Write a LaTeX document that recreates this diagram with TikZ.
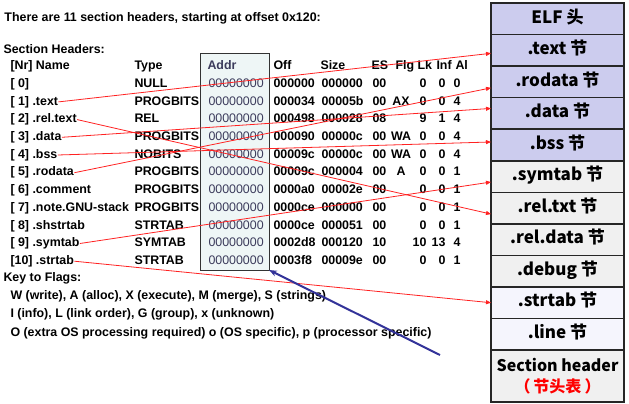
\documentclass[tikz,border=0pt]{standalone}
\usepackage{fontspec}
\setmainfont{Liberation Sans}
\newfontfamily\cjk{Noto Sans CJK SC}
\usetikzlibrary{positioning,arrows.meta}
\definecolor{boxlav}{HTML}{CCCCEE}
\definecolor{boxgray}{HTML}{F0F0F0}
\definecolor{boxpale}{HTML}{F5F5FD}
\definecolor{addrfill}{HTML}{EEF6F6}
\definecolor{addrtxt}{HTML}{3C3C5C}
\definecolor{linkred}{HTML}{FF2222}
\definecolor{pointblue}{HTML}{333399}

\begin{document}
\begin{tikzpicture}[x=1pt,y=-1pt,
every node/.style={inner sep=0.5pt,outer sep=0pt},
txt/.style={anchor=base west,font=\fontsize{12.4}{14}\selectfont\bfseries},
addr/.style={anchor=base west,text=addrtxt,font=\fontsize{12.4}{14}\selectfont},
seg/.style={draw=black!85,line width=1.5pt,minimum width=133pt,minimum height=31.55pt,
  text height=12pt,text depth=3.5pt,font=\cjk\fontsize{17}{21}\selectfont\bfseries},
link/.style={draw=linkred,line width=0.8pt,-{Triangle[length=5pt,width=4pt]}},
pointer/.style={draw=pointblue,line width=2pt,-{Stealth[length=8pt,width=6pt]}}]

\useasboundingbox (0,0) rectangle (629,404);

% Addr column
\node[draw=black!80,line width=1pt,fill=addrfill,minimum width=69pt,minimum height=216pt,
  anchor=north west] (addrbox) at (200,54) {};

\node[txt] (title) at (4,21.4) {There are 11 section headers, starting at offset 0x120:};
\node[txt] (shead) at (3,53.4) {Section Headers:};

% column titles
\node[txt] (hnr) at (10,69.4) {[Nr] Name};
\node[txt] (htype) at (134,69.4) {Type};
\node[txt,text=addrtxt] (haddr) at (207,69.4) {Addr};
\node[txt] (hoff) at (273,69.4) {Off};
\node[txt] (hsize) at (320,69.4) {Size};
\node[txt] (hes) at (371,69.4) {ES};
\node[txt] (hflg) at (395,69.4) {Flg};
\node[txt] (hlk) at (417,69.4) {Lk};
\node[txt] (hinf) at (436,69.4) {Inf};
\node[txt] (hal) at (455,69.4) {Al};

% table rows
\foreach \i/\nm/\ty/\off/\sz/\es/\fl/\lk/\inf/\al in {
  0/{[ 0]}/NULL/000000/000000/00/{}/0/0/0,
  1/{[ 1] .text}/PROGBITS/000034/00005b/00/AX/0/0/4,
  2/{[ 2] .rel.text}/REL/000498/000028/08/{}/9/1/4,
  3/{[ 3] .data}/PROGBITS/000090/00000c/00/WA/0/0/4,
  4/{[ 4] .bss}/NOBITS/00009c/00000c/00/WA/0/0/4,
  5/{[ 5] .rodata}/PROGBITS/00009c/000004/00/A/0/0/1,
  6/{[ 6] .comment}/PROGBITS/0000a0/00002e/00/{}/0/0/1,
  7/{[ 7] .note.GNU-stack}/PROGBITS/0000ce/000000/00/{}/0/0/1,
  8/{[ 8] .shstrtab}/STRTAB/0000ce/000051/00/{}/0/0/1,
  9/{[ 9] .symtab}/SYMTAB/0002d8/000120/10/{}/10/13/4,
  10/{[10] .strtab}/STRTAB/0003f8/00009e/00/{}/0/0/1}{
  \pgfmathsetmacro\ry{87.4+17.7*\i}
  \node[txt] (r\i) at (10,\ry) {\nm};
  \node[txt] (t\i) at (134,\ry) {\ty};
  \node[addr] (a\i) at (208,\ry) {00000000};
  \node[txt] (o\i) at (273,\ry) {\off};
  \node[txt] (s\i) at (321,\ry) {\sz};
  \node[txt] (e\i) at (372,\ry) {\es};
  \node[txt,anchor=base] (f\i) at (401,\ry) {\fl};
  \node[txt,anchor=base east] (l\i) at (427,\ry) {\lk};
  \node[txt,anchor=base east] (n\i) at (446,\ry) {\inf};
  \node[txt,anchor=base east] (al\i) at (461,\ry) {\al};
}

% flags
\node[txt] (k0) at (3,281.4) {Key to Flags:};
\node[txt] (k1) at (10,299.4) {W (write), A (alloc), X (execute), M (merge), S (strings)};
\node[txt] (k2) at (10,317.4) {I (info), L (link order), G (group), x (unknown)};
\node[txt] (k3) at (10,336.4) {O (extra OS processing required) o (OS specific), p (processor specific)};

% file layout
\node[seg,fill=boxlav,anchor=north west] (belf) at (491,3) {ELF 头};
\node[seg,fill=boxlav,below=0pt of belf] (btext) {.text 节};
\node[seg,fill=boxlav,below=0pt of btext] (brodata) {.rodata 节};
\node[seg,fill=boxlav,below=0pt of brodata] (bdata) {.data 节};
\node[seg,fill=boxlav,below=0pt of bdata] (bbss) {.bss 节};
\node[seg,fill=boxgray,below=0pt of bbss] (bsymtab) {.symtab 节};
\node[seg,fill=boxgray,below=0pt of bsymtab] (breltxt) {.rel.txt 节};
\node[seg,fill=boxgray,below=0pt of breltxt] (breldata) {.rel.data 节};
\node[seg,fill=boxgray,below=0pt of breldata] (bdebug) {.debug 节};
\node[seg,fill=boxpale,below=0pt of bdebug] (bstrtab) {.strtab 节};
\node[seg,fill=boxpale,below=0pt of bstrtab] (bline) {.line 节};
\node[seg,fill=boxgray,below=0pt of bline,minimum height=52pt,text height=,text depth=,
  align=center,font=\cjk\fontsize{16}{21}\selectfont\bfseries] (bshdr)
  {Section header\\{\color{red}（\hspace{3pt}节头表\hspace{3pt}）}};

% sections to their place in the file
\draw[link] (r1.east) -- ([yshift=-3pt]btext.west);
\draw[link] (r2.east) -- ([yshift=-6pt]breltxt.west);
\draw[link] (r3.east) -- ([yshift=5pt]bdata.west);
\draw[link] (r4.east) -- ([yshift=3pt]bbss.west);
\draw[link] (r5.east) -- ([yshift=-6pt]brodata.west);
\draw[link] (r9.east) -- ([yshift=-5.5pt]bsymtab.west);
\draw[link] (r10.east) -- (bstrtab.west);

\coordinate (ptail) at (440,355);
\draw[pointer] (ptail) -- (addrbox.south east);
\end{tikzpicture}
\end{document}
